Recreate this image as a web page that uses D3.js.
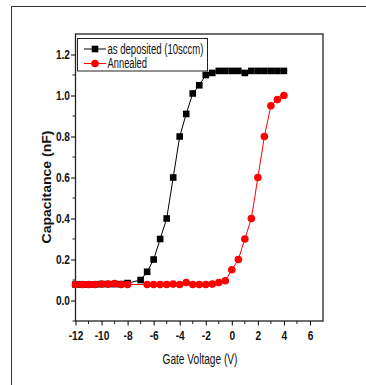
<!DOCTYPE html>
<html>
<head>
<meta charset="utf-8">
<script src="https://cdn.jsdelivr.net/npm/d3@7"></script>
<style>
  body { margin: 0; background: #fff; }
  svg text { font-family: "Liberation Sans", Arial, sans-serif; }
</style>
</head>
<body>
<svg id="chart" width="366" height="385"></svg>
<script>
// gate voltage steps
const volt_dep = [-12,-11.5,-11,-10.5,-10,-9.5,-9,-8.5,-8,-7,-6.5,-6,-5.5,-5,-4.5,-4,-3.5,-3,-2.5,-2,-1.5,-1,-0.5,0,0.5,1,1.5,2,2.5,3,3.5,4];
const cap_dep = [0.078,0.078,0.078,0.078,0.08,0.08,0.08,0.08,0.085,0.1,0.14,0.2,0.3,0.4,0.6,0.8,0.91,1.01,1.05,1.1,1.11,1.12,1.12,1.12,1.12,1.11,1.12,1.12,1.12,1.12,1.12,1.12];

const volt_ann = [-12,-11.5,-11,-10.5,-10,-9.5,-9,-8.5,-8,-6.5,-6,-5.5,-5,-4.5,-4,-3.5,-3,-2.5,-2,-1.5,-1,-0.5,0,0.5,1,1.5,2,2.5,3,3.5,4];
const cap_ann = [0.078,0.078,0.078,0.078,0.08,0.08,0.083,0.078,0.078,0.078,0.078,0.078,0.078,0.08,0.078,0.088,0.078,0.078,0.078,0.08,0.088,0.096,0.15,0.2,0.3,0.4,0.6,0.8,0.95,0.98,1.0];

const x_ticks = [-12,-10,-8,-6,-4,-2,0,2,4,6];
const y_ticks = [0,0.2,0.4,0.6,0.8,1.0,1.2];
const series_names = ['as deposited (10sccm)', 'Annealed'];

const svg = d3.select('#chart');

// squeeze text horizontally, the original uses a narrow font
function narrow(sel, k) {
  sel.each(function() {
    const w = this.getComputedTextLength();
    d3.select(this).attr('textLength', w * k).attr('lengthAdjust', 'spacingAndGlyphs');
  });
}

// outer frame
svg.append('rect')
  .attr('x', 11.5).attr('y', 6.5)
  .attr('width', 370).attr('height', 400)
  .attr('fill', 'none').attr('stroke', '#333').attr('stroke-width', 1);

const pLeft = 75.5, pRight = 323, pTop = 34, pBottom = 321;

const x = d3.scaleLinear().domain([-12, 7]).range([pLeft, pRight]);
const y = d3.scaleLinear().domain([-0.1, 1.3]).range([pBottom, pTop]);

// frame of plot
svg.append('rect')
  .attr('x', pLeft).attr('y', pTop)
  .attr('width', pRight - pLeft).attr('height', pBottom - pTop)
  .attr('fill', 'none').attr('stroke', '#222').attr('stroke-width', 1.3);

// minor ticks
const gx = svg.append('g').attr('transform', `translate(0,${pBottom})`);
gx.selectAll('line.minor')
  .data(d3.range(-11, 7, 2))
  .enter().append('line')
  .attr('x1', d => x(d)).attr('x2', d => x(d))
  .attr('y1', 0).attr('y2', 3)
  .attr('stroke', '#222');
gx.call(d3.axisBottom(x).tickValues(x_ticks).tickSize(4.5).tickFormat(d => String(d)))
  .call(g => g.select('.domain').remove())
  .call(g => g.selectAll('text')
    .attr('font-size', 13).attr('font-weight', 'bold').attr('fill', '#111')
    .attr('y', 19).attr('dy', 0));
narrow(gx.selectAll('text'), 0.78);

const gy = svg.append('g').attr('transform', `translate(${pLeft},0)`);
gy.selectAll('line.minor')
  .data([-0.1, 0.1, 0.3, 0.5, 0.7, 0.9, 1.1])
  .enter().append('line')
  .attr('x1', 0).attr('x2', -3)
  .attr('y1', d => y(d)).attr('y2', d => y(d))
  .attr('stroke', '#222');
gy.call(d3.axisLeft(y).tickValues(y_ticks).tickSize(4.5).tickFormat(d3.format('.1f')))
  .call(g => g.select('.domain').remove())
  .call(g => g.selectAll('text')
    .attr('font-size', 13).attr('font-weight', 'bold').attr('fill', '#111').attr('x', -5.5));
narrow(gy.selectAll('text'), 0.78);

// lines
const line = d3.line().x(d => x(d[0])).y(d => y(d[1]));
const dep = volt_dep.map((v, i) => [v, cap_dep[i]]);
const ann = volt_ann.map((v, i) => [v, cap_ann[i]]);

svg.append('path').datum(dep)
  .attr('d', line).attr('fill', 'none').attr('stroke', '#000').attr('stroke-width', 1);
svg.selectAll('rect.sq').data(dep).enter().append('rect')
  .attr('x', d => x(d[0]) - 3.3).attr('y', d => y(d[1]) - 3.3)
  .attr('width', 6.6).attr('height', 6.6).attr('fill', '#000');

svg.append('path').datum(ann)
  .attr('d', line).attr('fill', 'none').attr('stroke', '#f00').attr('stroke-width', 1);
svg.selectAll('circle.ci').data(ann).enter().append('circle')
  .attr('cx', d => x(d[0])).attr('cy', d => y(d[1]))
  .attr('r', 3.8).attr('fill', '#f00');

// legend
const lg = svg.append('g');
lg.append('rect')
  .attr('x', 77.5).attr('y', 38.5).attr('width', 130).attr('height', 32.5)
  .attr('fill', '#fff').attr('stroke', '#222').attr('stroke-width', 1);
const legendW = [96, 39.5];
series_names.forEach((name, i) => {
  const yy = 49 + i * 14.5;
  const col = i === 0 ? '#000' : '#f00';
  lg.append('line').attr('x1', 84).attr('x2', 106).attr('y1', yy).attr('y2', yy)
    .attr('stroke', col).attr('stroke-width', 1);
  if (i === 0) {
    lg.append('rect').attr('x', 95 - 3.3).attr('y', yy - 3.3).attr('width', 6.6).attr('height', 6.6).attr('fill', col);
  } else {
    lg.append('circle').attr('cx', 95).attr('cy', yy).attr('r', 3.8).attr('fill', col);
  }
  lg.append('text').attr('x', 107.5).attr('y', yy + 4.5)
    .attr('font-size', 14).attr('fill', '#111')
    .attr('textLength', legendW[i]).attr('lengthAdjust', 'spacingAndGlyphs')
    .text(name);
});

// axis titles
svg.append('text')
  .attr('x', 200).attr('y', 364)
  .attr('text-anchor', 'middle').attr('font-size', 14).attr('fill', '#111')
  .attr('textLength', 75).attr('lengthAdjust', 'spacingAndGlyphs')
  .text('Gate Voltage (V)');

svg.append('text')
  .attr('transform', `translate(51,187) rotate(-90)`)
  .attr('text-anchor', 'middle').attr('font-size', 13.5).attr('font-weight', 'bold').attr('fill', '#111')
  .attr('textLength', 113).attr('lengthAdjust', 'spacingAndGlyphs')
  .text('Capacitance (nF)');
</script>
</body>
</html>
